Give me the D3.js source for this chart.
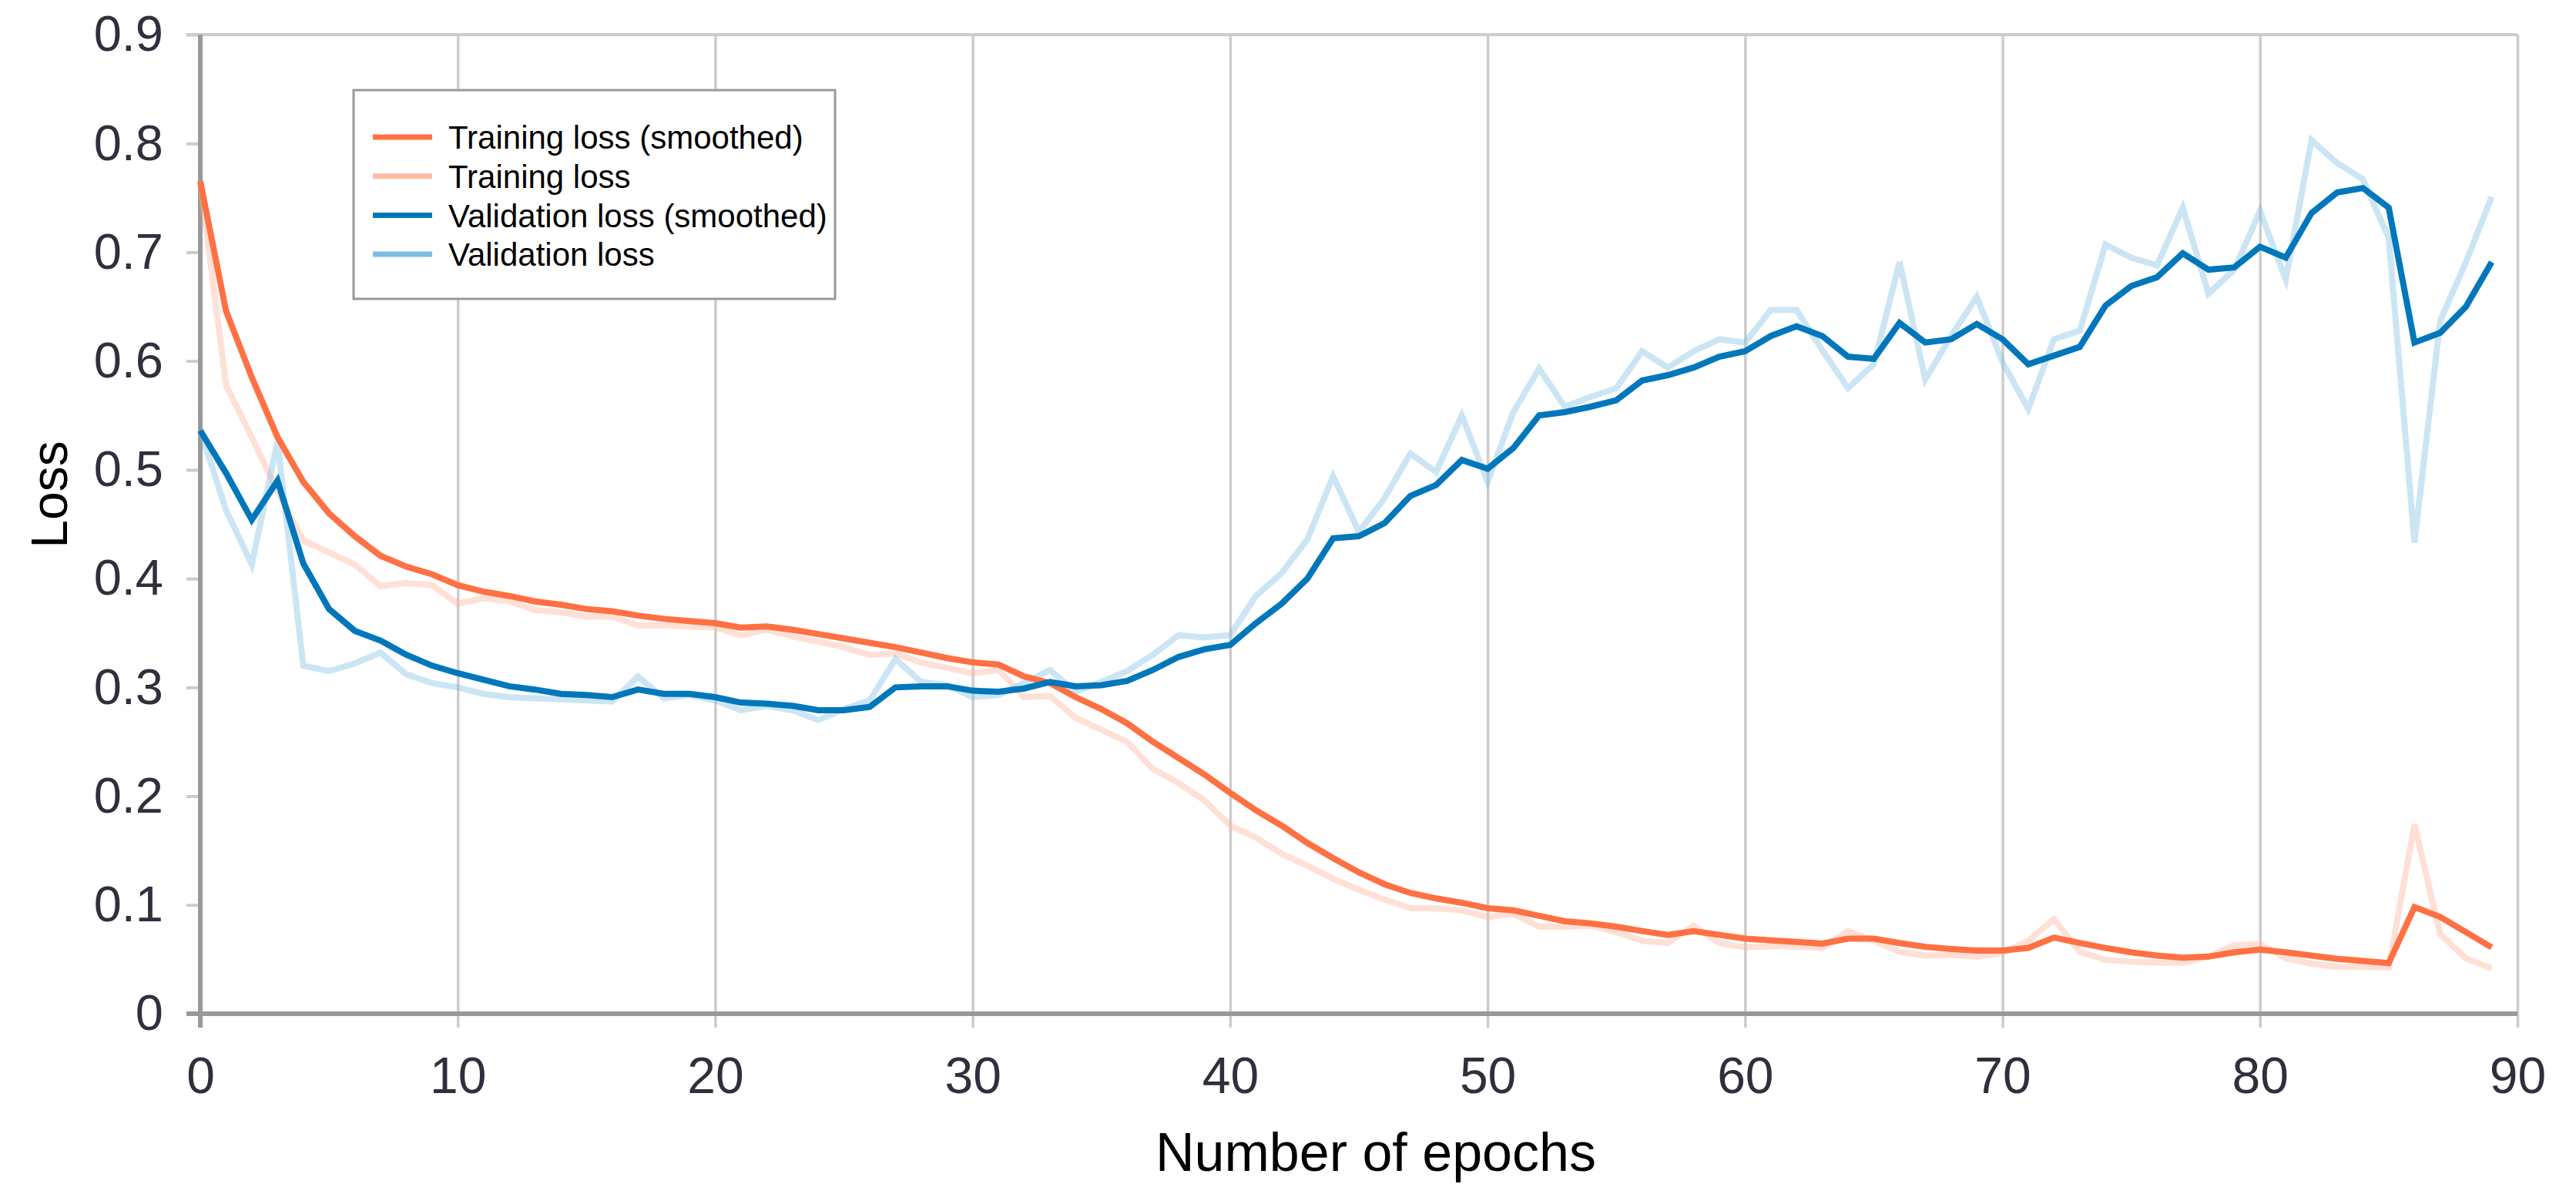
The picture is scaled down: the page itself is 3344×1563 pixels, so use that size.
<!DOCTYPE html>
<html>
<head>
<meta charset="utf-8">
<script src="https://cdn.jsdelivr.net/npm/d3@7"></script>
<style>
  body { margin: 0; background: #fff; }
  svg { display: block; font-family: 'Liberation Sans', Arial, sans-serif; }
</style>
</head>
<body>
<svg id="chart" width="3344" height="1563"></svg>
<script>
// epochs 0..89
const epochs = d3.range(0, 90);

const trainSmooth = [
  0.765, 0.646, 0.585, 0.530, 0.489, 0.460, 0.439, 0.421, 0.411, 0.404,
  0.394, 0.388, 0.384, 0.379, 0.376, 0.372, 0.370, 0.366, 0.363, 0.361,
  0.359, 0.355, 0.356, 0.353, 0.349, 0.345, 0.341, 0.337, 0.332, 0.327,
  0.323, 0.321, 0.310, 0.304, 0.291, 0.280, 0.267, 0.250, 0.235, 0.220,
  0.203, 0.187, 0.173, 0.157, 0.143, 0.130, 0.119, 0.111, 0.106, 0.102,
  0.097, 0.095, 0.090, 0.085, 0.083, 0.080, 0.076, 0.0725, 0.076, 0.0725,
  0.069, 0.0675, 0.066, 0.0645, 0.069, 0.069, 0.065, 0.0615, 0.0595, 0.058,
  0.058, 0.0605, 0.070, 0.065, 0.0605, 0.0565, 0.0535, 0.0515, 0.0525, 0.0565,
  0.059, 0.0565, 0.0535, 0.0505, 0.0485, 0.0465, 0.098, 0.089, 0.075, 0.061
];

const trainRaw = [
  0.765, 0.578, 0.530, 0.480, 0.435, 0.424, 0.413, 0.393, 0.396, 0.394,
  0.377, 0.382, 0.379, 0.371, 0.369, 0.365, 0.365, 0.357, 0.357, 0.356,
  0.355, 0.348, 0.353, 0.347, 0.342, 0.337, 0.330, 0.331, 0.323, 0.318,
  0.313, 0.316, 0.291, 0.292, 0.272, 0.261, 0.250, 0.225, 0.212, 0.196,
  0.173, 0.162, 0.147, 0.136, 0.124, 0.114, 0.105, 0.097, 0.097, 0.095,
  0.089, 0.092, 0.080, 0.080, 0.081, 0.075, 0.067, 0.065, 0.081, 0.065,
  0.061, 0.062, 0.062, 0.0605, 0.076, 0.067, 0.057, 0.0535, 0.054, 0.0525,
  0.056, 0.067, 0.087, 0.057, 0.0495, 0.048, 0.047, 0.047, 0.0525, 0.063,
  0.064, 0.051, 0.046, 0.043, 0.043, 0.0425, 0.174, 0.073, 0.051, 0.0415
];

const valSmooth = [
  0.536, 0.497, 0.454, 0.490, 0.414, 0.372, 0.352, 0.343, 0.330, 0.320,
  0.313, 0.307, 0.301, 0.298, 0.294, 0.293, 0.291, 0.298, 0.294, 0.294,
  0.291, 0.286, 0.285, 0.283, 0.279, 0.279, 0.282, 0.300, 0.301, 0.301,
  0.297, 0.296, 0.299, 0.305, 0.301, 0.302, 0.306, 0.316, 0.328, 0.335,
  0.339, 0.359, 0.377, 0.400, 0.437, 0.439, 0.451, 0.476, 0.486, 0.509,
  0.501, 0.520, 0.550, 0.553, 0.558, 0.564, 0.582, 0.587, 0.594, 0.604,
  0.609, 0.623, 0.632, 0.623, 0.604, 0.602, 0.635, 0.617, 0.620, 0.634,
  0.620, 0.597, 0.605, 0.613, 0.651, 0.669, 0.677, 0.699, 0.684, 0.686,
  0.705, 0.695, 0.736, 0.755, 0.759, 0.741, 0.617, 0.626, 0.650, 0.691
];

const valRaw = [
  0.536, 0.463, 0.413, 0.526, 0.320, 0.315, 0.322, 0.332, 0.312, 0.304,
  0.300, 0.294, 0.291, 0.290, 0.289, 0.288, 0.287, 0.310, 0.290, 0.293,
  0.288, 0.279, 0.283, 0.279, 0.270, 0.280, 0.288, 0.326, 0.305, 0.302,
  0.291, 0.293, 0.304, 0.316, 0.296, 0.305, 0.315, 0.330, 0.348, 0.346,
  0.348, 0.384, 0.405, 0.436, 0.494, 0.443, 0.474, 0.515, 0.498, 0.550,
  0.489, 0.553, 0.593, 0.558, 0.567, 0.575, 0.609, 0.594, 0.609, 0.620,
  0.617, 0.647, 0.647, 0.610, 0.575, 0.597, 0.691, 0.583, 0.623, 0.659,
  0.599, 0.556, 0.620, 0.628, 0.707, 0.695, 0.688, 0.741, 0.662, 0.684,
  0.738, 0.675, 0.803, 0.782, 0.767, 0.713, 0.433, 0.637, 0.691, 0.751
];

const xTicks = [0, 10, 20, 30, 40, 50, 60, 70, 80, 90];
const yTicks = [0, 0.1, 0.2, 0.3, 0.4, 0.5, 0.6, 0.7, 0.8, 0.9];

const legendLabels = ['Training loss (smoothed)', 'Training loss', 'Validation loss (smoothed)', 'Validation loss'];
const legendColors = ['#ff7043', '#ffbba5', '#0077bb', '#7fbde3'];

const svg = d3.select('#chart');

const plot = { left: 260, right: 3268, top: 45, bottom: 1316 };

const xScale = d3.scaleLinear().domain([0, 90]).range([plot.left, plot.right]);
const yScale = d3.scaleLinear().domain([0, 0.9]).range([plot.bottom, plot.top]);

// vertical grid lines + x tick labels
const xAxis = svg.append('g')
  .attr('transform', `translate(0,${plot.bottom + 18})`)
  .call(d3.axisBottom(xScale)
    .tickValues(xTicks)
    .tickSize(-(plot.bottom + 18 - plot.top))
    .tickPadding(38)
    .tickFormat(d3.format('d')));
xAxis.select('.domain').remove();
xAxis.selectAll('.tick line').attr('stroke', '#cccccc').attr('stroke-width', 3.5);
xAxis.selectAll('.tick text')
  .attr('fill', '#2f2f3d')
  .style('font-size', '66px');

// top border line
svg.append('line')
  .attr('x1', plot.left - 18).attr('x2', plot.right)
  .attr('y1', plot.top).attr('y2', plot.top)
  .attr('stroke', '#cccccc').attr('stroke-width', 4);

// y axis ticks + labels
const yAxis = svg.append('g')
  .attr('transform', `translate(${plot.left},0)`)
  .call(d3.axisLeft(yScale)
    .tickValues(yTicks)
    .tickSize(18)
    .tickPadding(30)
    .tickFormat(d3.format('~g')));
yAxis.select('.domain').remove();
yAxis.selectAll('.tick line').attr('stroke', '#cccccc').attr('stroke-width', 4);
yAxis.selectAll('.tick text')
  .attr('fill', '#2f2f3d')
  .style('font-size', '65px');

// y axis line
svg.append('line')
  .attr('x1', plot.left).attr('x2', plot.left)
  .attr('y1', plot.top).attr('y2', plot.bottom + 18)
  .attr('stroke', '#999999').attr('stroke-width', 6);

// x axis line
svg.append('line')
  .attr('x1', plot.left - 18).attr('x2', plot.right)
  .attr('y1', plot.bottom).attr('y2', plot.bottom)
  .attr('stroke', '#999999').attr('stroke-width', 6);

// lines
const line = d3.line()
  .x((d, i) => xScale(epochs[i]))
  .y(d => yScale(d));

const series = [
  { values: trainRaw, color: '#ffbba5', opacity: 0.45 },
  { values: valRaw, color: '#7fbde3', opacity: 0.4 },
  { values: trainSmooth, color: '#ff7043', opacity: 1 },
  { values: valSmooth, color: '#0077bb', opacity: 1 }
];

svg.append('g')
  .selectAll('path')
  .data(series)
  .enter()
  .append('path')
  .attr('d', d => line(d.values))
  .attr('fill', 'none')
  .attr('stroke', d => d.color)
  .attr('stroke-opacity', d => d.opacity)
  .attr('stroke-width', 8)
  .attr('stroke-linejoin', 'miter');

// axis titles
svg.append('text')
  .attr('x', 1786)
  .attr('y', 1520)
  .attr('text-anchor', 'middle')
  .style('font-size', '70px')
  .text('Number of epochs');

svg.append('text')
  .attr('transform', 'translate(87,642) rotate(-90)')
  .attr('text-anchor', 'middle')
  .style('font-size', '66px')
  .text('Loss');

// legend
const legend = svg.append('g').attr('transform', 'translate(459,117)');

legend.append('rect')
  .attr('width', 625)
  .attr('height', 271)
  .attr('fill', '#fff')
  .attr('stroke', '#999999')
  .attr('stroke-width', 3);

const rows = legend.selectAll('.legend')
  .data(legendLabels)
  .enter()
  .append('g')
  .attr('class', 'legend')
  .attr('transform', (d, i) => `translate(0,${61 + i * 50.7})`);

rows.append('line')
  .attr('x1', 25).attr('x2', 102)
  .attr('stroke', (d, i) => legendColors[i])
  .attr('stroke-width', 7);

rows.append('text')
  .attr('x', 123)
  .attr('dy', '0.36em')
  .style('font-size', '42px')
  .attr('fill', '#000')
  .text(d => d);
</script>
</body>
</html>
